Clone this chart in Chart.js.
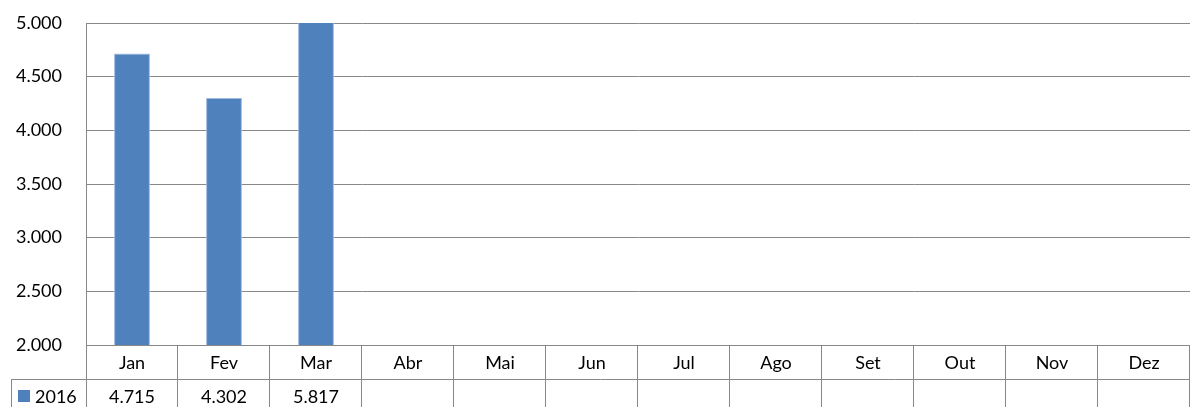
<!DOCTYPE html>
<html>
<head>
<meta charset="utf-8">
<script src="https://cdn.jsdelivr.net/npm/chart.js@4"></script>
<style>
  html, body { margin: 0; padding: 0; background: #fff; }
  #wrap { width: 1191px; height: 407px; }
</style>
</head>
<body>
<div id="wrap"><canvas id="resultsChart" width="1191" height="407"></canvas></div>
<script>
// chart data
var months = ['Jan', 'Fev', 'Mar', 'Abr', 'Mai', 'Jun', 'Jul', 'Ago', 'Set', 'Out', 'Nov', 'Dez'];
var seriesName = '2016';
var values2016 = [4715, 4302, 5817, null, null, null, null, null, null, null, null, null];
var yMin = 2000;
var yMax = 5000;
var yStep = 500;

var barColor = '#4F81BD';
var lineColor = '#888888';
var fontFamily = 'Lato, "Open Sans", sans-serif';
var fontSize = 18;

// 4715 -> "4.715"
function fmt(v) {
    return String(Math.round(v)).replace(/\B(?=(\d{3})+(?!\d))/g, '.');
}

// draws the data table under the plot, Excel style
var dataTable = {
    id: 'dataTable',
    afterDraw: function(chart) {
        var ctx = chart.ctx;
        var x = chart.scales.x;
        var area = chart.chartArea;
        var half = (x.getPixelForValue(1) - x.getPixelForValue(0)) / 2;
        var row1Top = area.bottom;
        var row1Bottom = row1Top + 34;
        var row2Bottom = row1Bottom + 34;
        var legendLeft = 11;

        ctx.save();
        ctx.strokeStyle = lineColor;
        ctx.lineWidth = 1;
        ctx.beginPath();
        // horizontal lines
        ctx.moveTo(area.left, Math.round(row1Top) + 0.5);
        ctx.lineTo(area.right, Math.round(row1Top) + 0.5);
        ctx.moveTo(legendLeft, row1Bottom + 0.5);
        ctx.lineTo(area.right, row1Bottom + 0.5);
        // legend cell left edge
        ctx.moveTo(legendLeft + 0.5, row1Bottom);
        ctx.lineTo(legendLeft + 0.5, row2Bottom);
        // axis line down through the table
        ctx.moveTo(area.left + 0.5, row1Top);
        ctx.lineTo(area.left + 0.5, row2Bottom);
        // column separators
        for (var i = 0; i < months.length; i++) {
            var right = Math.round(x.getPixelForValue(i) + half) - 0.5;
            ctx.moveTo(right, row1Top);
            ctx.lineTo(right, row2Bottom);
        }
        ctx.stroke();

        ctx.fillStyle = '#000';
        ctx.font = fontSize + 'px ' + fontFamily;
        ctx.textAlign = 'center';
        ctx.textBaseline = 'middle';
        for (var j = 0; j < months.length; j++) {
            var cx = x.getPixelForValue(j);
            ctx.fillText(months[j], cx, (row1Top + row1Bottom) / 2 + 1);
            if (values2016[j] != null) {
                ctx.fillText(fmt(values2016[j]), cx, (row1Bottom + row2Bottom) / 2 + 1);
            }
        }

        // legend key + series name
        var midY = (row1Bottom + row2Bottom) / 2;
        ctx.fillStyle = barColor;
        ctx.fillRect(18, Math.round(midY) - 6, 12, 12);
        ctx.fillStyle = '#000';
        ctx.textAlign = 'left';
        ctx.fillText(seriesName, 35, midY + 1);
        ctx.restore();
    }
};

var ctx = document.getElementById('resultsChart').getContext('2d');
var myChart = new Chart(ctx, {
    type: 'bar',
    data: {
        labels: months,
        datasets: [{
            label: seriesName,
            data: values2016,
            backgroundColor: barColor,
            borderColor: '#9FBAE0',
            borderWidth: 1,
            barPercentage: 0.39,
            categoryPercentage: 1
        }]
    },
    options: {
        responsive: false,
        animation: false,
        layout: {
            padding: { top: 23, bottom: 62, right: 1, left: 0 }
        },
        scales: {
            x: {
                display: false
            },
            y: {
                min: yMin,
                max: yMax,
                ticks: {
                    stepSize: yStep,
                    color: '#000',
                    padding: 24,
                    font: { family: fontFamily, size: fontSize },
                    callback: function(value) {
                        return fmt(value);
                    }
                },
                grid: {
                    color: lineColor,
                    lineWidth: 1,
                    drawTicks: false
                },
                border: { color: lineColor, width: 1 },
                afterFit: function(scale) {
                    scale.width = 86;
                    // tick padding would otherwise push the plot down
                    scale.paddingTop = 0;
                    scale.paddingBottom = 0;
                }
            }
        },
        plugins: {
            legend: { display: false },
            tooltip: { enabled: false }
        }
    },
    plugins: [dataTable]
});
</script>
</body>
</html>
